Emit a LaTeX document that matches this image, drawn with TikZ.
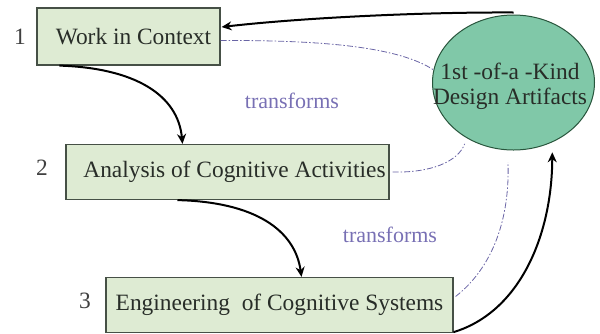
\documentclass[tikz,border=0pt]{standalone}
\usepackage{fontspec}
\setmainfont{Liberation Serif}
\usetikzlibrary{arrows.meta,shapes.geometric,calc}
\definecolor{boxfill}{RGB}{222,235,211}
\definecolor{boxline}{RGB}{70,80,70}
\definecolor{ellfill}{RGB}{128,200,168}
\definecolor{ellline}{RGB}{40,85,60}
\definecolor{txt}{RGB}{40,45,40}
\definecolor{dashc}{RGB}{105,100,165}
\definecolor{transc}{RGB}{120,112,180}
\begin{document}
\begin{tikzpicture}[x=1pt,y=-1pt,
  every node/.style={font=\fontsize{23.4}{27}\selectfont, text=txt},
  stepbox/.style={draw=boxline, line width=1.2pt, fill=boxfill, rectangle, inner sep=0pt},
  artifact/.style={draw=ellline, line width=1pt, fill=ellfill, ellipse, inner sep=0pt},
  flow/.style={line width=2pt, black, -{Stealth[length=10pt,width=9pt]}},
  link/.style={dashc, line width=0.8pt, dash pattern=on 6pt off 2pt on 1.5pt off 2pt},
  numlab/.style={inner sep=0pt, text=black!75},
  translab/.style={inner sep=0pt, text=transc, font=\fontsize{22}{26}\selectfont}]
\useasboundingbox (0,0) rectangle (600,333);
% boxes
\node[stepbox, minimum width=183pt, minimum height=57pt] (b1) at (128.5,36.5) {\hspace*{10pt}Work in Context};
\node[stepbox, minimum width=323pt, minimum height=55pt] (b2) at (227.5,172) {\hspace*{14pt}Analysis of Cognitive Activities};
\node[stepbox, minimum width=347pt, minimum height=55pt] (b3) at (279.5,305) {Engineering\ \ of Cognitive Systems};
\node[artifact, minimum width=162pt, minimum height=135pt] (e) at (513.5,82.5) {};
\node[inner sep=0pt, align=center] (et) at (510,86) {1st -of-a -Kind\\[-2pt]Design Artifacts};
% numbers
\node[numlab] (n1) at (20,37) {1};
\node[numlab] (n2) at (42,168) {2};
\node[numlab] (n3) at (85,301) {3};
% labels
\node[translab] (t1) at (292,101) {transforms};
\node[translab] (t2) at (390,235) {transforms};
% flow arrows
\draw[flow] ([xshift=23pt]b1.south west) .. controls (135,68) and (178,95) .. ([xshift=-45pt]b2.north);
\draw[flow] ([xshift=-50pt]b2.south) .. controls (255,202) and (295,230) .. ([xshift=22pt]b3.north);
\draw[flow, shorten >=10pt] ([yshift=1pt]b3.south east) .. controls (520,312) and (552,235) .. (e.-57);
\draw[flow] ([yshift=2pt]e.north) .. controls (420,12) and (300,18) .. ([yshift=9.5pt,xshift=1pt]b1.east);
% dashed links
\draw[link] ([yshift=-4pt]b1.east) .. controls (330,40) and (400,48) .. (e.171);
\draw[link, shorten >=6pt] ([xshift=3pt]b2.east) .. controls (430,173) and (458,162) .. (e.-130);
\draw[link, shorten >=12pt] ([yshift=8.5pt,xshift=2pt]b3.east) .. controls (492,268) and (510,220) .. (e.-95);
\end{tikzpicture}
\end{document}
